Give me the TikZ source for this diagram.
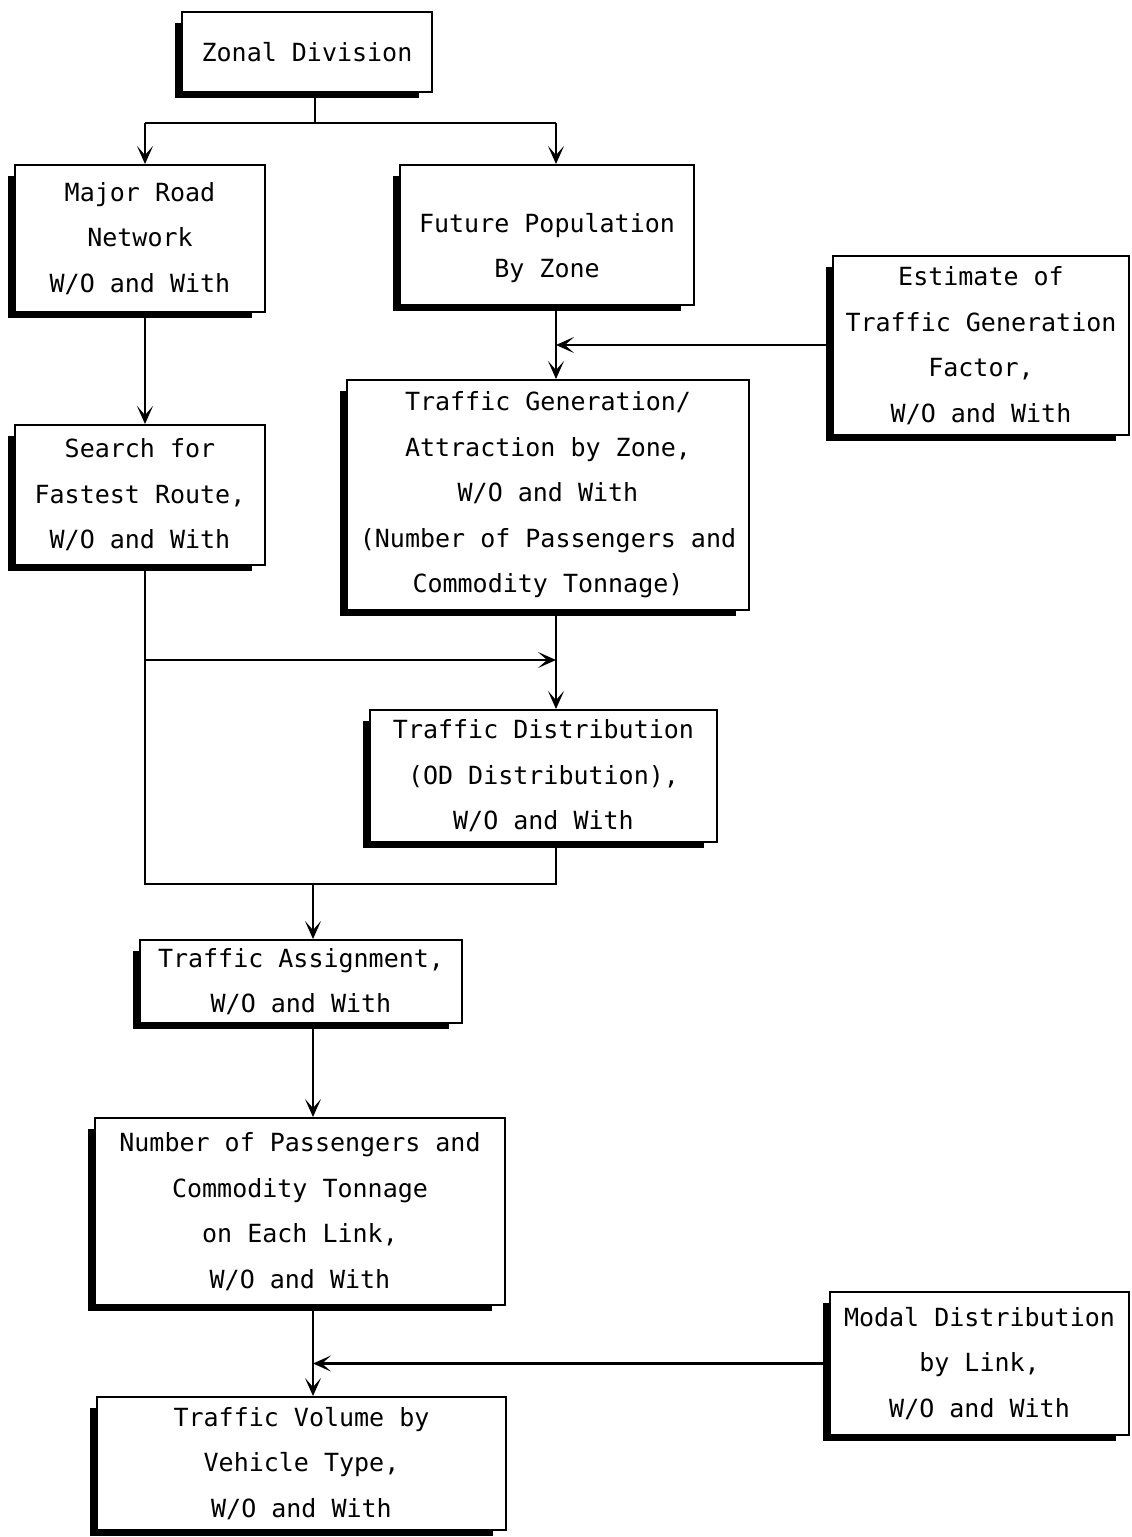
\documentclass[tikz,border=0pt]{standalone}
\usepackage{fontspec}
\newfontfamily\twfont{DejaVu Sans Mono}
\usetikzlibrary{arrows.meta,backgrounds,calc}
\begin{document}
\begin{tikzpicture}[x=1pt,y=-1pt,
  box/.style={draw,line width=2pt,fill=white,rectangle,inner sep=0pt,align=center,
    font=\twfont\fontsize{25}{45.5}\selectfont},
  arr/.style={line width=2.2pt,-{Stealth[length=18pt,width=16pt,inset=9pt]}},
  ln/.style={line width=2.2pt}]
\useasboundingbox (0,0) rectangle (1132,1537);
\node[box,minimum width=250pt,minimum height=80pt] (zonal) at (307,52) {Zonal Division};
\node[box,minimum width=250pt,minimum height=147pt] (major) at (140,238.5) {Major Road\\Network\\W/O and With};
\node[box,minimum width=294pt,minimum height=140pt] (future) at (547,235) {\mbox{}\\Future Population\\By Zone};
\node[box,minimum width=296pt,minimum height=179pt] (estimate) at (981,345.5) {Estimate of\\Traffic Generation\\Factor,\\W/O and With};
\node[box,minimum width=402pt,minimum height=230pt] (tga) at (548,495) {Traffic Generation/\\Attraction by Zone,\\W/O and With\\(Number of Passengers and\\Commodity Tonnage)};
\node[box,minimum width=250pt,minimum height=140pt] (search) at (140,495) {Search for\\Fastest Route,\\W/O and With};
\node[box,minimum width=347pt,minimum height=132pt] (td) at (543.5,776) {Traffic Distribution\\(OD Distribution),\\W/O and With};
\node[box,minimum width=322pt,minimum height=83pt] (ta) at (301,981.5) {Traffic Assignment,\\W/O and With};
\node[box,minimum width=410pt,minimum height=187pt] (nop) at (300,1211.5) {Number of Passengers and\\Commodity Tonnage\\on Each Link,\\W/O and With};
\node[box,minimum width=299pt,minimum height=143pt] (modal) at (979.5,1363.5) {Modal Distribution\\by Link,\\W/O and With};
\node[box,minimum width=409pt,minimum height=133pt] (tvol) at (301.5,1463.5) {Traffic Volume by\\Vehicle Type,\\W/O and With};
\begin{scope}[on background layer]
\foreach \n in {zonal,major,future,estimate,tga,search,td,ta,nop,modal,tvol}{
  \fill ([xshift=-6pt,yshift=-12pt]\n.north west) rectangle ([xshift=-14pt,yshift=-5pt]\n.south east);
}
\end{scope}
\coordinate (j0) at (315,123);
\coordinate (a1) at (145,123);
\coordinate (a2) at (556,123);
\coordinate (h1) at (145,660);
\coordinate (j2) at (145,884);
\coordinate (j3) at (556,884);
\coordinate (a3) at (313,884);
\coordinate (e1) at (830,345);
\draw[ln] (zonal.south -| j0) -- (j0);
\draw[ln] (a1) -- (a2);
\draw[arr] (a1) -- (a1 |- major.north);
\draw[arr] (a2) -- (a2 |- future.north);
\draw[arr] (a1 |- major.south) -- (a1 |- search.north);
\draw[arr] (a2 |- future.south) -- (a2 |- tga.north);
\draw[arr] (estimate.west |- e1) -- (e1 -| a2);
\draw[ln] (a1 |- search.south) -- (j2) -- (j3) -- (j3 |- td.south);
\draw[arr] (h1) -- (h1 -| a2);
\draw[arr] (a2 |- tga.south) -- (a2 |- td.north);
\draw[arr] (a3) -- (a3 |- ta.north);
\draw[arr] (a3 |- ta.south) -- (a3 |- nop.north);
\draw[arr] (a3 |- nop.south) -- (a3 |- tvol.north);
\draw[arr] (modal.west) -- (modal.west -| a3);
\end{tikzpicture}
\end{document}
